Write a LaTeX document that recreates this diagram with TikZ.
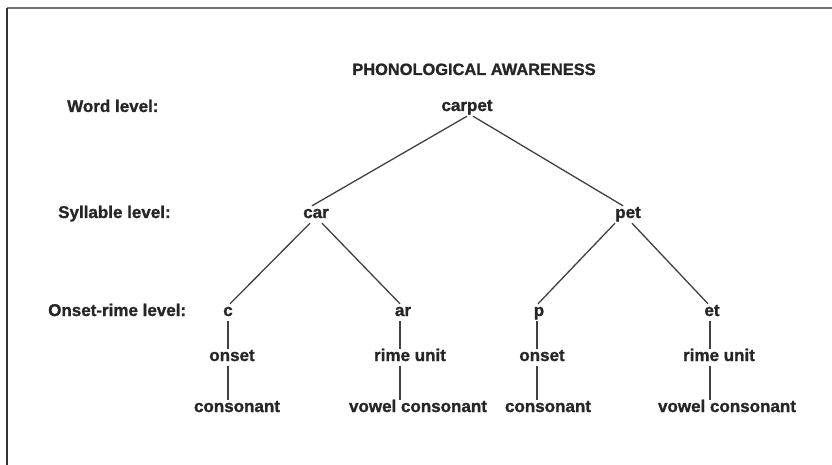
\documentclass[tikz,border=0pt]{standalone}
\usepackage{fontspec}
\setmainfont{Liberation Sans}[BoldFeatures={FakeBold=1.2}]
\begin{document}
\begin{tikzpicture}[x=1pt,y=-1pt,
  txt/.style={font=\fontsize{17}{20}\selectfont\bfseries, text=black!85, inner sep=1pt, text height=11pt, text depth=4pt, anchor=base},
  lvl/.style={font=\fontsize{17}{20}\selectfont\bfseries, text=black!85, inner sep=0pt, anchor=base west},
  ttl/.style={font=\fontsize{16.4}{20}\selectfont\bfseries, text=black!85, inner sep=0pt, anchor=base},
  edge/.style={draw=black!75, line width=1.3pt}]
\useasboundingbox (0,0) rectangle (832,465);
% frame
\draw[black!55, line width=1.4pt] (7,8) -- (832,8);
\draw[black!80, line width=1.4pt] (7,8) -- (7,465);
% title and level labels
\node[ttl] (title) at (474,75) {PHONOLOGICAL AWARENESS};
\node[lvl] (lw) at (67,112) {Word level:};
\node[lvl] (ls) at (58,218) {Syllable level:};
\node[lvl] (lo) at (48,316) {Onset-rime level:};
% tree nodes
\node[txt] (carpet) at (467,111) {carpet};
\node[txt] (car) at (316,218) {car};
\node[txt] (pet) at (628,218) {pet};
\node[txt] (c) at (228,316) {c};
\node[txt] (ar) at (403,316) {ar};
\node[txt] (p) at (539,316) {p};
\node[txt] (et) at (712,316) {et};
\node[txt] (on1) at (232,361) {onset};
\node[txt] (ru1) at (410,361) {rime unit};
\node[txt] (on2) at (542,361) {onset};
\node[txt] (ru2) at (719,361) {rime unit};
\node[txt] (co1) at (237,412) {consonant};
\node[txt] (vc1) at (418,412) {vowel consonant};
\node[txt] (co2) at (548,412) {consonant};
\node[txt] (vc2) at (727,412) {vowel consonant};
% connectors
\draw[edge] ([xshift=0pt]carpet.south) -- ([xshift=-4pt]car.north);
\draw[edge] ([xshift=6pt]carpet.south) -- ([xshift=-5pt]pet.north);
\draw[edge] ([xshift=-6pt]car.south) -- ([xshift=2pt]c.north);
\draw[edge] ([xshift=6pt]car.south) -- ([xshift=-3pt]ar.north);
\draw[edge] ([xshift=-13pt]pet.south) -- ([xshift=-1pt]p.north);
\draw[edge] ([xshift=4pt]pet.south) -- ([xshift=-4pt]et.north);
% vertical connectors
\draw[edge] (c.south) -- (c.south |- on1.north);
\draw[edge] (c.south |- on1.south) -- (c.south |- co1.north);
\draw[edge] ([xshift=-3pt]ar.south) -- ([xshift=-3pt]ar.south |- ru1.north);
\draw[edge] ([xshift=-3pt]ar.south |- ru1.south) -- ([xshift=-3pt]ar.south |- vc1.north);
\draw[edge] ([xshift=-2pt]p.south) -- ([xshift=-2pt]p.south |- on2.north);
\draw[edge] ([xshift=-2pt]p.south |- on2.south) -- ([xshift=-2pt]p.south |- co2.north);
\draw[edge] ([xshift=-2pt]et.south) -- ([xshift=-2pt]et.south |- ru2.north);
\draw[edge] ([xshift=-2pt]et.south |- ru2.south) -- ([xshift=-2pt]et.south |- vc2.north);
\end{tikzpicture}
\end{document}
